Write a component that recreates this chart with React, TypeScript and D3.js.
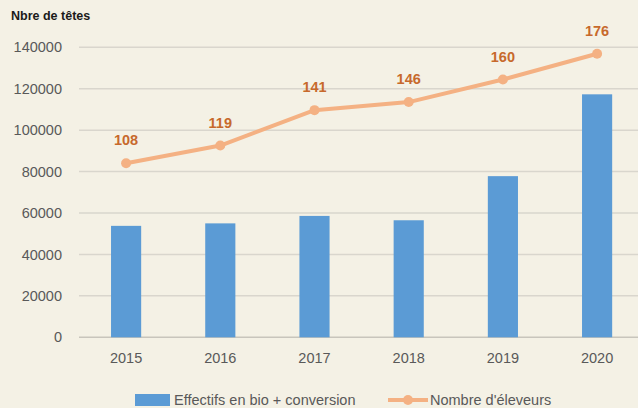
import React from "react";
import * as d3 from "d3";

const years = ["2015", "2016", "2017", "2018", "2019", "2020"];
const effectifs = [53800, 55000, 58600, 56500, 77800, 117300];
const eleveurs = [108, 119, 141, 146, 160, 176];
const yTicks = [0, 20000, 40000, 60000, 80000, 100000, 120000, 140000];
const yTitle = "Nbre de têtes";
const seriesNames = ["Effectifs en bio + conversion", "Nombre d'éleveurs"];

const W = 638;
const H = 408;
const FONT = "'Liberation Sans', Arial, sans-serif";

export default function App() {
  const x = d3
    .scaleBand<string>()
    .domain(years)
    .range([79, 644.2])
    .paddingInner(0.68)
    .paddingOuter(0.34);
  const y = d3.scaleLinear().domain([0, 140000]).range([337.3, 47.3]);
  const y2 = d3.scaleLinear().domain([0, 180]).range([337.3, 47.3]);
  const cx = (d: string) => (x(d) ?? 0) + x.bandwidth() / 2;

  const line = d3
    .line<number>()
    .x((_, i) => cx(years[i]))
    .y((v) => y2(v));

  return (
    <svg
      width={W}
      height={H}
      style={{ position: "absolute", left: 0, top: 0, display: "block" }}
    >
      <rect x={0} y={0} width={W} height={H} fill="#f4f1e5" />
      <text x={11} y={20} fontFamily={FONT} fontWeight="bold" fontSize={12.5} fill="#1a1a1a">
        {yTitle}
      </text>
      {yTicks.map((t) => (
        <g key={t}>
          <line
            x1={79}
            x2={W}
            y1={y(t)}
            y2={y(t)}
            stroke={t === 0 ? "#c8c5bc" : "#d9d6cd"}
            strokeWidth={1.5}
          />
          <text
            x={62}
            y={y(t)}
            dy="0.35em"
            textAnchor="end"
            fontFamily={FONT}
            fontSize={14.5}
            fill="#595959"
          >
            {t}
          </text>
        </g>
      ))}
      {years.map((yr, i) => (
        <rect
          key={yr}
          x={x(yr)}
          y={y(effectifs[i])}
          width={x.bandwidth()}
          height={y(0) - y(effectifs[i])}
          fill="#5b9bd5"
        />
      ))}
      <path d={line(eleveurs) ?? ""} fill="none" stroke="#f4b183" strokeWidth={4} strokeLinejoin="round" />
      {eleveurs.map((v, i) => (
        <g key={i}>
          <circle cx={cx(years[i])} cy={y2(v)} r={5} fill="#f4b183" />
          <text
            x={cx(years[i])}
            y={y2(v) - 18}
            textAnchor="middle"
            fontFamily={FONT}
            fontWeight="bold"
            fontSize={14.5}
            fill="#c7692c"
          >
            {v}
          </text>
        </g>
      ))}
      {years.map((yr) => (
        <text
          key={yr}
          x={cx(yr)}
          y={358}
          dy="0.35em"
          textAnchor="middle"
          fontFamily={FONT}
          fontSize={14.5}
          fill="#595959"
        >
          {yr}
        </text>
      ))}
      <g>
        <rect x={135} y={394} width={35} height={12} fill="#5b9bd5" />
        <text x={174} y={400} dy="0.35em" fontFamily={FONT} fontSize={14.5} fill="#595959">
          {seriesNames[0]}
        </text>
        <line x1={388} x2={428} y1={400} y2={400} stroke="#f4b183" strokeWidth={4} />
        <circle cx={408} cy={400} r={5} fill="#f4b183" />
        <text x={430} y={400} dy="0.35em" fontFamily={FONT} fontSize={14.5} fill="#595959">
          {seriesNames[1]}
        </text>
      </g>
    </svg>
  );
}
